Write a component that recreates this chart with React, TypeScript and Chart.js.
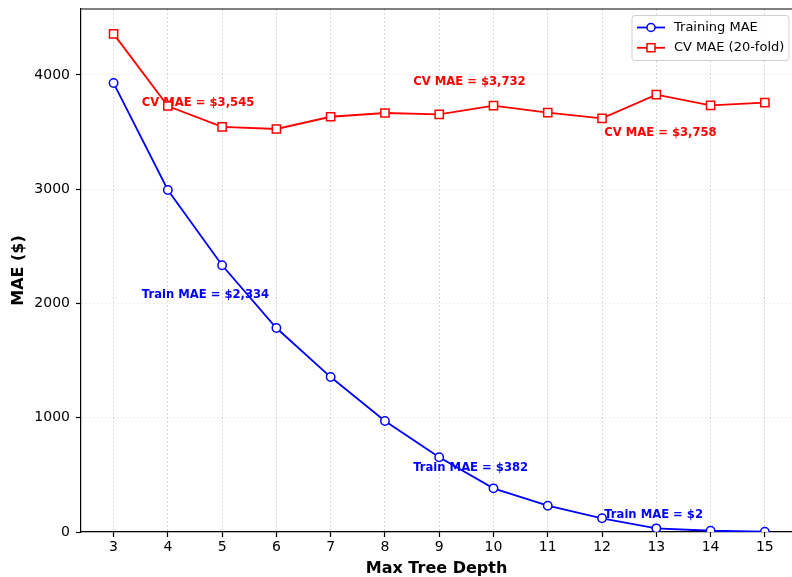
import React, { useEffect, useRef } from 'react';
import { Chart, registerables } from 'chart.js';

Chart.register(...registerables);

const depths = [3, 4, 5, 6, 7, 8, 9, 10, 11, 12, 13, 14, 15];
const trainMAE = [3929, 2993, 2334, 1785, 1356, 971, 654, 382, 230, 120, 32, 11, 2];
const cvMAE = [4359, 3728, 3545, 3527, 3634, 3667, 3655, 3732, 3670, 3620, 3827, 3734, 3758];
const xTicks = [3, 4, 5, 6, 7, 8, 9, 10, 11, 12, 13, 14, 15];
const yTicks = [0, 1000, 2000, 3000, 4000];
const seriesLabels = ['Training MAE', 'CV MAE (20-fold)'];
const annotationTexts = [
  'CV MAE = $3,545',
  'Train MAE = $2,334',
  'CV MAE = $3,732',
  'Train MAE = $382',
  'CV MAE = $3,758',
  'Train MAE = $2',
];
const annotationX = [3.52, 3.52, 8.52, 8.52, 12.04, 12.04];
const annotationY = [3730, 2048, 3915, 530, 3465, 122];
const annotationSeries = [1, 0, 1, 0, 1, 0];

const BLUE = '#0000ff';
const RED = '#ff0000';
const FONT = "'DejaVu Sans', sans-serif";

const annotationPlugin = {
  id: 'textAnnotations',
  beforeDatasetsDraw(chart: any) {
    const { ctx, scales } = chart;
    ctx.save();
    ctx.font = `bold 11.6px ${FONT}`;
    ctx.textAlign = 'left';
    ctx.textBaseline = 'alphabetic';
    annotationTexts.forEach((t, i) => {
      ctx.fillStyle = annotationSeries[i] === 0 ? BLUE : RED;
      ctx.fillText(t, scales.x.getPixelForValue(annotationX[i]), scales.y.getPixelForValue(annotationY[i]));
    });
    ctx.restore();
  },
};

const framePlugin = {
  id: 'frameAndLegend',
  afterDraw(chart: any) {
    const { ctx, chartArea } = chart;
    ctx.save();
    // top spine
    ctx.strokeStyle = '#000';
    ctx.lineWidth = 1.2;
    ctx.beginPath();
    ctx.moveTo(chartArea.left - 0.6, chartArea.top);
    ctx.lineTo(chartArea.right, chartArea.top);
    ctx.stroke();

    // legend
    const bx = chartArea.right - 160;
    const by = chartArea.top + 6.5;
    const bw = 157;
    const bh = 45;
    const r = 3;
    ctx.beginPath();
    ctx.moveTo(bx + r, by);
    ctx.lineTo(bx + bw - r, by);
    ctx.arcTo(bx + bw, by, bx + bw, by + r, r);
    ctx.lineTo(bx + bw, by + bh - r);
    ctx.arcTo(bx + bw, by + bh, bx + bw - r, by + bh, r);
    ctx.lineTo(bx + r, by + bh);
    ctx.arcTo(bx, by + bh, bx, by + bh - r, r);
    ctx.lineTo(bx, by + r);
    ctx.arcTo(bx, by, bx + r, by, r);
    ctx.closePath();
    ctx.fillStyle = 'rgba(255,255,255,0.85)';
    ctx.fill();
    ctx.strokeStyle = '#d0d0d0';
    ctx.lineWidth = 1;
    ctx.stroke();

    const colors = [BLUE, RED];
    seriesLabels.forEach((label, i) => {
      const cy = by + 12 + i * 20.3;
      const lx0 = bx + 5;
      const lx1 = bx + 33;
      const mx = (lx0 + lx1) / 2;
      ctx.strokeStyle = colors[i];
      ctx.lineWidth = 1.8;
      ctx.beginPath();
      ctx.moveTo(lx0, cy);
      ctx.lineTo(lx1, cy);
      ctx.stroke();
      ctx.fillStyle = '#fff';
      ctx.lineWidth = 1.5;
      ctx.beginPath();
      if (i === 0) {
        ctx.arc(mx, cy, 4, 0, Math.PI * 2);
      } else {
        ctx.rect(mx - 4, cy - 4, 8, 8);
      }
      ctx.fill();
      ctx.stroke();
      ctx.fillStyle = '#000';
      ctx.font = `13px ${FONT}`;
      ctx.textAlign = 'left';
      ctx.textBaseline = 'middle';
      ctx.fillText(label, bx + 42, cy);
    });
    ctx.restore();
  },
};

export default function App() {
  const ref = useRef<HTMLCanvasElement | null>(null);

  useEffect(() => {
    document.body.style.margin = '0';
    document.body.style.overflow = 'hidden';
    const canvas = ref.current;
    if (!canvas) return;
    Chart.defaults.font.family = FONT;
    Chart.defaults.color = '#000';

    const chart = new Chart(canvas, {
      type: 'line',
      data: {
        datasets: [
          {
            label: seriesLabels[0],
            data: depths.map((d, i) => ({ x: d, y: trainMAE[i] })),
            borderColor: BLUE,
            backgroundColor: '#fff',
            borderWidth: 1.8,
            pointStyle: 'circle',
            pointRadius: 4.2,
            pointBorderWidth: 1.5,
            pointBackgroundColor: '#fff',
            pointBorderColor: BLUE,
            tension: 0,
          },
          {
            label: seriesLabels[1],
            data: depths.map((d, i) => ({ x: d, y: cvMAE[i] })),
            borderColor: RED,
            backgroundColor: '#fff',
            borderWidth: 1.8,
            pointStyle: 'rect',
            pointRadius: 5.8,
            pointBorderWidth: 1.5,
            pointBackgroundColor: '#fff',
            pointBorderColor: RED,
            tension: 0,
          },
        ],
      },
      options: {
        animation: false,
        responsive: false,
        devicePixelRatio: 1,
        layout: { autoPadding: false, padding: { top: 9, left: 0, right: 0, bottom: 0 } },
        plugins: {
          legend: { display: false },
          tooltip: { enabled: false },
        },
        scales: {
          x: {
            type: 'linear',
            min: 2.4,
            max: 15.5,
            afterBuildTicks: (a: any) => {
              a.ticks = xTicks.map((v) => ({ value: v }));
            },
            afterFit: (a: any) => {
              a.height = 45;
              a.paddingLeft = 0;
              a.paddingRight = 0;
            },
            grid: {
              color: 'rgba(0,0,0,0.25)',
              lineWidth: 0.8,
              drawTicks: true,
              tickLength: 5,
              tickColor: '#000',
              tickWidth: 1.2,
            },
            border: { display: true, color: '#000', width: 1.2, dash: [1.5, 2.5] },
            ticks: {
              color: '#000',
              font: { size: 14 },
              padding: 2,
              maxRotation: 0,
              autoSkip: false,
              callback: (v: any) => String(v),
            },
            title: {
              display: true,
              text: 'Max Tree Depth',
              color: '#000',
              font: { size: 16, weight: 'bold', lineHeight: 1 },
              padding: 0,
            },
          },
          y: {
            type: 'linear',
            min: 0,
            max: 4577,
            afterBuildTicks: (a: any) => {
              a.ticks = yTicks.map((v) => ({ value: v }));
            },
            afterFit: (a: any) => {
              a.width = 81;
              a.paddingTop = 0;
              a.paddingBottom = 0;
            },
            grid: {
              color: 'rgba(0,0,0,0.12)',
              lineWidth: 0.8,
              drawTicks: true,
              tickLength: 5,
              tickColor: '#000',
              tickWidth: 1.2,
            },
            border: { display: true, color: '#000', width: 1.2, dash: [1.5, 2.5] },
            ticks: {
              color: '#000',
              font: { size: 14 },
              padding: 6,
              callback: (v: any) => String(v),
            },
            title: {
              display: true,
              text: 'MAE ($)',
              color: '#000',
              font: { size: 16, weight: 'bold', lineHeight: 1 },
              padding: { top: 10.5, bottom: 0 },
            },
          },
        },
      } as any,
      plugins: [annotationPlugin, framePlugin],
    });

    return () => {
      chart.destroy();
    };
  }, []);

  return <canvas ref={ref} width={792} height={577} style={{ display: 'block' }} />;
}
